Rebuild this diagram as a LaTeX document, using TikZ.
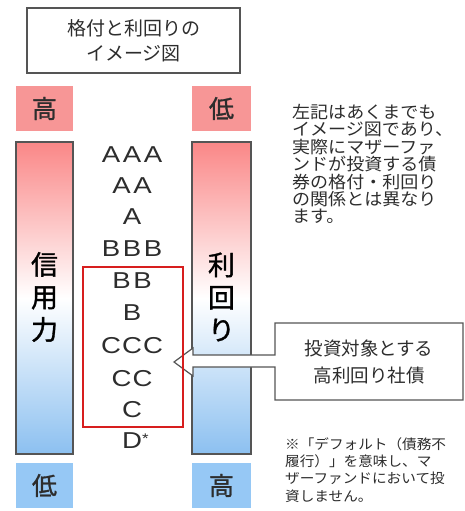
\documentclass[tikz,border=0pt]{standalone}
\usepackage{fontspec}
\setmainfont{Noto Sans CJK JP}
\newfontfamily\jpb[FakeBold=1.2]{Noto Sans CJK JP}
\newfontfamily\jpw[FakeStretch=1.06]{Noto Sans CJK JP}
\newfontfamily\latw[FakeStretch=1.2]{Liberation Sans}
\definecolor{pinkc}{RGB}{247,150,150}
\definecolor{bluec}{RGB}{150,200,245}
\definecolor{bartop}{RGB}{250,135,135}
\definecolor{barbot}{RGB}{140,192,240}
\definecolor{linegray}{RGB}{85,85,85}
\definecolor{txt}{RGB}{45,45,45}
\definecolor{redc}{RGB}{215,30,30}
\newcommand{\rtg}[1]{\def\rtgsep{}\rtgloop#1\relax}
\def\rtgloop#1{\ifx#1\relax\else\rtgsep\makebox[21pt]{#1}\expandafter\rtgloop\fi}
\tikzset{
  capbox/.style={inner sep=0pt, minimum width=#1, minimum height=45pt, text=txt, font=\jpb\fontsize{25}{25}\selectfont},
  barbox/.style={draw=linegray, line width=1.2pt, inner sep=0pt, minimum width=#1, minimum height=312pt, top color=bartop, bottom color=barbot, middle color=white},
  rating/.style={text=txt, inner sep=0pt, font=\latw\fontsize{23}{23}\selectfont},
  sidelbl/.style={text=black, inner sep=0pt, align=center, font=\jpb\fontsize{27}{32.5}\selectfont},
  note/.style={text=txt, inner sep=0pt, align=left, anchor=north west},
}
\begin{document}
\begin{tikzpicture}[x=1pt,y=-1pt]
\useasboundingbox[fill=white] (0,0) rectangle (465,511);
% title
\node[draw=linegray, line width=1.2pt, minimum width=213pt, minimum height=65pt, align=center, text=txt,
      font=\fontsize{19}{25}\selectfont] (title) at (133.5,40.5) {格付と利回りの\\イメージ図};
% top/bottom labels
\node[capbox=57pt, fill=pinkc] (hiL) at (44.5,108.5) {高};
\node[capbox=59pt, fill=pinkc] (loR) at (221.5,108.5) {低};
\node[capbox=57pt, fill=bluec] (loL) at (44.5,485.5) {低};
\node[capbox=59pt, fill=bluec] (hiR) at (221.5,485.5) {高};
% bars
\node[barbox=57pt] (barL) at (44.5,298) {};
\node[barbox=59pt] (barR) at (221.5,298) {};
\node[sidelbl] (lblL) at (44.5,297) {信\\用\\力};
\node[sidelbl] (lblR) at (221.5,297) {利\\回\\り};
% callout
\draw[draw=linegray, line width=1.2pt, fill=white, line join=miter]
  (275,323) -- (463,323) -- (463,400) -- (275,400) -- (275,367) -- (193,367) -- (193,376)
  -- (174,362) -- (193,348) -- (193,355) -- (275,355) -- cycle;
\node[text=txt, align=center, inner sep=0pt, font=\fontsize{18.5}{27}\selectfont] (callout) at (369,362) {投資対象とする\\高利回り社債};
% selection box
\node[draw=redc, line width=2.2pt, minimum width=100pt, minimum height=160pt, inner sep=0pt] (sel) at (133,347) {};
% ratings
\node[rating] (r1) at (132,155) {\rtg{AAA}};
\node[rating] (r2) at (132,186) {\rtg{AA}};
\node[rating] (r3) at (132,217) {\rtg{A}};
\node[rating] (r4) at (132,249) {\rtg{BBB}};
\node[rating] (r5) at (132,281) {\rtg{BB}};
\node[rating] (r6) at (132,313) {\rtg{B}};
\node[rating] (r7) at (132,346) {\rtg{CCC}};
\node[rating] (r8) at (132,379) {\rtg{CC}};
\node[rating] (r9) at (132,410) {\rtg{C}};
\node[rating, anchor=west] (r10) at (122,441) {D\raisebox{5pt}{\fontsize{14}{14}\selectfont *}};
% notes
\node[note, font=\jpw\fontsize{17}{17.4}\selectfont] (note1) at (292,104)
  {左記はあくまでも\\イメージ図であり、\\実際にマザーファ\\ンドが投資する債\\券の格付・利回り\\の関係とは異なり\\ます。};
\node[note, font=\jpw\fontsize{13.8}{17.4}\selectfont] (note2) at (285,437)
  {※「デフォルト（債務不\\履行）」を意味し、マ\\ザーファンドにおいて投\\資しません。};
\end{tikzpicture}
\end{document}
